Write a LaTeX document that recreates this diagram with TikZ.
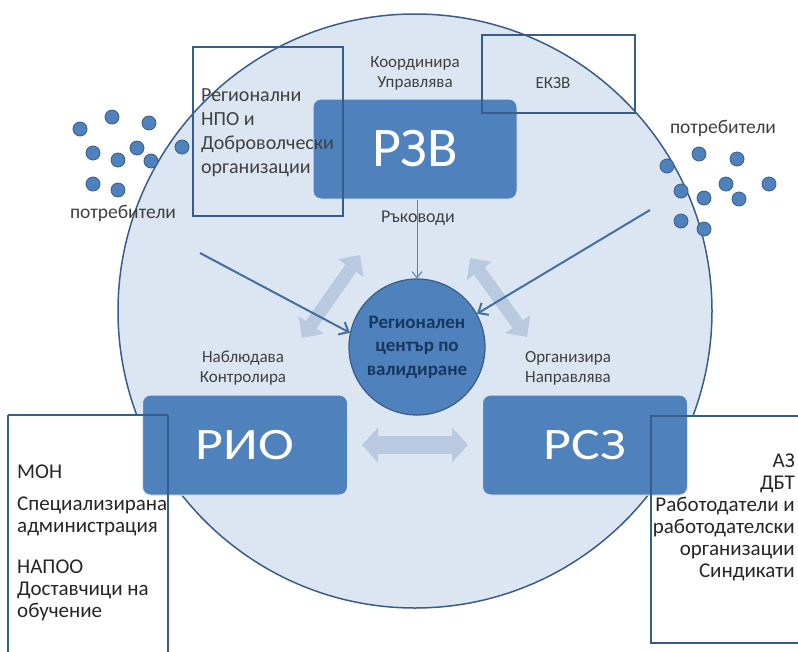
\documentclass[tikz,border=0pt]{standalone}
\usepackage{fontspec}
\setmainfont{Carlito}
\usetikzlibrary{arrows.meta,positioning}
\definecolor{bgc}{RGB}{220,230,242}
\definecolor{edgec}{RGB}{56,93,138}
\definecolor{boxc}{RGB}{79,129,189}
\definecolor{lightarr}{RGB}{185,201,224}
\definecolor{labc}{RGB}{64,64,64}
\definecolor{navy}{RGB}{23,55,94}
\tikzset{
  mainbox/.style={fill=boxc, draw=bgc, line width=1pt, rounded corners=8pt, text=white, inner sep=0pt},
  framebox/.style={draw=edgec, line width=1.2pt},
  lab/.style={text=labc, font=\fontsize{17}{20}\selectfont, align=center, inner sep=0pt},
  boxline/.style={text=black!85, font=\fontsize{21}{22}\selectfont, inner sep=0pt},
  npoline/.style={text=labc, font=\fontsize{20}{24}\selectfont, inner sep=0pt, anchor=base west},
  dot/.style={circle, fill=boxc, draw=edgec, line width=0.8pt, minimum size=14pt, inner sep=0pt},
  darkarr/.style={draw=boxc!85!black, line width=2pt, -{Straight Barb[length=8pt,width=14pt]}},
  thinarr/.style={draw=boxc, line width=1pt, -{Straight Barb[length=6pt,width=10pt]}},
  fatarr/.style={draw=lightarr, line width=13pt, {Triangle[width=30pt,length=16pt]}-{Triangle[width=30pt,length=16pt]}},
}
\begin{document}
\begin{tikzpicture}[x=1pt,y=-1pt]
\useasboundingbox (0,0) rectangle (798,651);
\clip (0,0) rectangle (798,651);
% big circle
\node[circle, fill=bgc, draw=edgec, line width=1.5pt, minimum size=594pt, inner sep=0pt] (big) at (415,311) {};
% white boxes
\fill[white] (8,415) rectangle (168,660);
\fill[white] (651,416) rectangle (805,643);
% main boxes
\node[mainbox, minimum width=204pt, minimum height=100pt, font=\fontsize{56}{60}\selectfont] (rzb) at (415,149) {РЗВ};
\node[mainbox, minimum width=205pt, minimum height=100pt, font=\fontsize{45}{50}\selectfont] (rio) at (245,445) {\scalebox{1.2}[1]{РИО}};
\node[mainbox, minimum width=205pt, minimum height=100pt, font=\fontsize{45}{50}\selectfont] (rsz) at (585,445) {\scalebox{1.2}[1]{РСЗ}};
% frames
\draw[framebox] (8,415) -- (168,415) (8,415) -- (8,660) (168,415) -- (168,660);
\draw[framebox] (805,416) -- (651,416) -- (651,643) -- (805,643);
\node[framebox, minimum width=150pt, minimum height=169pt, inner sep=0pt] (npo) at (268,131.5) {};
\node[framebox, minimum width=153pt, minimum height=78pt, inner sep=0pt] (ekzv) at (558.5,74) {};
% center circle
\node[circle, fill=boxc, draw=edgec, line width=1.2pt, minimum size=136pt, inner sep=0pt, text=navy, font=\bfseries\fontsize{19}{23.5}\selectfont, align=center] (rc) at (417,347) {Регионален\\център по\\валидиране};
% NPO text
\node[npoline] (n1) at (201,101) {Регионални};
\node[npoline] (n2) at (201,125) {НПО и};
\node[npoline] (n3) at (201,149) {Доброволчески};
\node[npoline] (n4) at (201,173) {организации};
\node[text=labc, font=\fontsize{17}{20}\selectfont, inner sep=0pt] (ekzvt) at (553,83) {ЕКЗВ};
% left box text
\node[boxline, anchor=base west] (m1) at (17,478) {МОН};
\node[boxline, anchor=base west] (m2) at (17,510) {Специализирана};
\node[boxline, anchor=base west] (m3) at (17,532) {администрация};
\node[boxline, anchor=base west] (m4) at (17,573) {НАПОО};
\node[boxline, anchor=base west] (m5) at (17,595) {Доставчици на};
\node[boxline, anchor=base west] (m6) at (17,617) {обучение};
% right box text
\node[boxline, anchor=base east] (r1) at (795,467) {АЗ};
\node[boxline, anchor=base east] (r2) at (795,489) {ДБТ};
\node[boxline, anchor=base east] (r3) at (795,511) {Работодатели и};
\node[boxline, anchor=base east] (r4) at (795,533) {работодателски};
\node[boxline, anchor=base east] (r5) at (795,555) {организации};
\node[boxline, anchor=base east] (r6) at (795,577) {Синдикати};
% labels
\node[lab] (l1) at (415,73) {Координира\\Управлява};
\node[lab, font=\fontsize{18}{20}\selectfont] (l2) at (418,218) {Ръководи};
\node[lab] (l3) at (243,368) {Наблюдава\\Контролира};
\node[lab] (l4) at (568,368) {Организира\\Направлява};
\node[text=labc, font=\fontsize{19.5}{22}\selectfont, inner sep=0pt] (pl) at (123,213) {потребители};
\node[text=labc, font=\fontsize{19.5}{22}\selectfont, inner sep=0pt] (pr) at (723,128) {потребители};
% dots
\foreach \n/\x/\y in {a/80/129,b/112/117,c/149/123,d/93/153,e/118/160,f/137/148,g/151/161,h/182/147,i/93/184,j/118/190}
  \node[dot] (dl\n) at (\x,\y) {};
\foreach \n/\x/\y in {a/667/166,b/699/154,c/737/159,d/681/191,e/704/198,f/726/184,g/739/199,h/769/184,i/681/221,j/704/229}
  \node[dot] (dr\n) at (\x,\y) {};
% light arrows
\coordinate (fa1) at (302,338); \coordinate (fa2) at (360,255);
\coordinate (fb1) at (470,258); \coordinate (fb2) at (527,337);
\coordinate (fc1) at (362,445); \coordinate (fc2) at (468,445);
\draw[fatarr] (fa1) -- (fa2);
\draw[fatarr] (fb1) -- (fb2);
\draw[fatarr, line width=18pt, {Triangle[width=34pt,length=16pt]}-{Triangle[width=34pt,length=16pt]}] (fc1) -- (fc2);
% dark arrows
\coordinate (sl) at (200,253);
\coordinate (sr) at (650,210);
\draw[darkarr] (sl) -- (rc.168);
\draw[darkarr] (sr) -- (rc.29);
\draw[thinarr] (rzb.south -| rc.north) -- (rc.north);
\end{tikzpicture}
\end{document}
